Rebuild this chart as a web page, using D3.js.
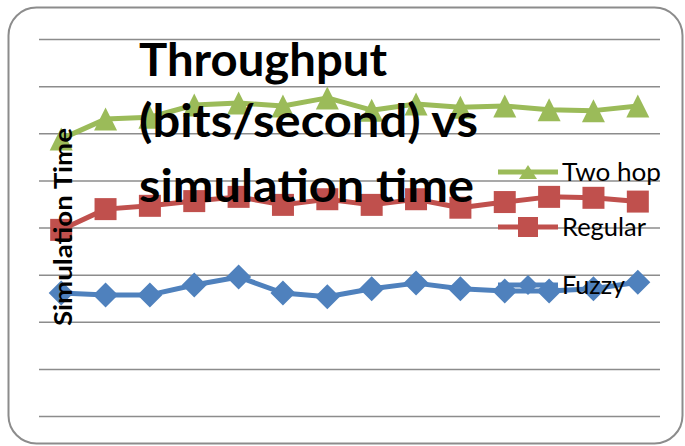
<!DOCTYPE html>
<html>
<head>
<meta charset="utf-8">
<script src="https://cdn.jsdelivr.net/npm/d3@7"></script>
<style>
  html, body { margin: 0; padding: 0; background: #ffffff; }
  svg { display: block; }
</style>
</head>
<body>
<svg id="chart" width="685" height="446"></svg>
<script>
// ---- data ----
const categories = ["1","2","3","4","5","6","7","8","9","10","11","12","13","14"];
const twoHop  = [5.88, 6.30, 6.34, 6.60, 6.64, 6.58, 6.75, 6.49, 6.62, 6.55, 6.58, 6.50, 6.48, 6.58];
const regular = [3.95, 4.39, 4.46, 4.56, 4.65, 4.48, 4.60, 4.48, 4.60, 4.42, 4.54, 4.65, 4.63, 4.55];
const fuzzy   = [2.61, 2.57, 2.57, 2.78, 2.95, 2.61, 2.53, 2.70, 2.82, 2.70, 2.65, 2.65, 2.70, 2.84];
const yTicks  = [0, 1, 2, 3, 4, 5, 6, 7, 8];
const seriesNames = ["Two hop", "Regular", "Fuzzy"];
const titleLines = ["Throughput", "(bits/second) vs", "simulation time"];
const yAxisTitle = "Simulation  Time";

// ---- layout ----
const svg = d3.select("#chart");
const plot = { left: 39, right: 660, top: 39, bottom: 416 };

const x = d3.scaleBand().domain(categories).range([plot.left, plot.right]);
const cx = c => x(c) + x.bandwidth() / 2;
const y = d3.scaleLinear().domain([0, 8]).range([plot.bottom, plot.top]);

// chart border
svg.append("rect")
  .attr("x", 8.5).attr("y", 7.5)
  .attr("width", 674).attr("height", 436)
  .attr("rx", 28).attr("ry", 28)
  .attr("fill", "#ffffff")
  .attr("stroke", "#8c8c8c")
  .attr("stroke-width", 2);

// gridlines
const grid = svg.append("g")
  .attr("transform", `translate(${plot.left},0)`)
  .call(d3.axisLeft(y).tickValues(yTicks).tickSize(-(plot.right - plot.left)).tickFormat(""));
grid.select(".domain").remove();
grid.selectAll(".tick line").attr("stroke", "#8c8c8c").attr("stroke-width", 1.5);

// marker shapes
function markerPath(kind, s) {
  const p = d3.path();
  if (kind === "triangle") {
    const w = s.w / 2, h = s.h / 2;
    p.moveTo(0, -h); p.lineTo(w, h); p.lineTo(-w, h); p.closePath();
  } else if (kind === "square") {
    const h = s.w / 2;
    p.rect(-h, -h, s.w, s.w);
  } else {
    const h = s.w / 2;
    p.moveTo(0, -h); p.lineTo(h, 0); p.lineTo(0, h); p.lineTo(-h, 0); p.closePath();
  }
  return p.toString();
}

const series = [
  { name: seriesNames[2], values: fuzzy,   color: "#4F81BD", marker: "diamond",  size: { w: 25 } },
  { name: seriesNames[1], values: regular, color: "#C0504D", marker: "square",   size: { w: 22 } },
  { name: seriesNames[0], values: twoHop,  color: "#9BBB59", marker: "triangle", size: { w: 23, h: 23 } }
];

const line = d3.line().x((d, i) => cx(categories[i])).y(d => y(d));

series.forEach(s => {
  const g = svg.append("g");
  g.append("path")
    .attr("d", line(s.values))
    .attr("fill", "none")
    .attr("stroke", s.color)
    .attr("stroke-width", 5)
    .attr("stroke-linejoin", "round");
  g.selectAll("path.m").data(s.values).enter().append("path")
    .attr("class", "m")
    .attr("d", markerPath(s.marker, s.size))
    .attr("transform", (d, i) => `translate(${cx(categories[i])},${y(d)})`)
    .attr("fill", s.color);
});

// legend
const legendItems = [
  { name: seriesNames[0], color: "#9BBB59", marker: "triangle", size: { w: 18, h: 14 }, ly: 172, len: 99 },
  { name: seriesNames[1], color: "#C0504D", marker: "square",   size: { w: 20 },        ly: 227, len: 84 },
  { name: seriesNames[2], color: "#4F81BD", marker: "diamond",  size: { w: 20 },        ly: 285, len: 63 }
];
const lg = svg.append("g");
legendItems.forEach(it => {
  lg.append("line")
    .attr("x1", 498).attr("x2", 558)
    .attr("y1", it.ly).attr("y2", it.ly)
    .attr("stroke", it.color).attr("stroke-width", 5);
  lg.append("path")
    .attr("d", markerPath(it.marker, it.size))
    .attr("transform", `translate(528,${it.ly})`)
    .attr("fill", it.color);
  lg.append("text")
    .attr("x", 562).attr("y", it.ly + 9)
    .attr("font-family", "Lato, 'Open Sans', sans-serif")
    .attr("font-size", 25)
    .attr("fill", "#000")
    .attr("textLength", it.len)
    .attr("lengthAdjust", "spacingAndGlyphs")
    .text(it.name);
});

// chart title (overlaid on plot)
const titleBase = [76, 137, 202];
const titleLen = [248, 339, 335];
titleLines.forEach((t, i) => {
  svg.append("text")
    .attr("x", 139).attr("y", titleBase[i])
    .attr("font-family", "Lato, 'Open Sans', sans-serif")
    .attr("font-weight", "bold")
    .attr("font-size", 46)
    .attr("fill", "#000")
    .attr("textLength", titleLen[i])
    .attr("lengthAdjust", "spacingAndGlyphs")
    .text(t);
});

// y axis title
svg.append("text")
  .attr("transform", "translate(72,227) rotate(-90)")
  .attr("text-anchor", "middle")
  .attr("font-family", "Lato, 'Open Sans', sans-serif")
  .attr("font-weight", "bold")
  .attr("font-size", 25)
  .attr("fill", "#000")
  .attr("textLength", 198)
  .attr("lengthAdjust", "spacingAndGlyphs")
  .text(yAxisTitle);
</script>
</body>
</html>
